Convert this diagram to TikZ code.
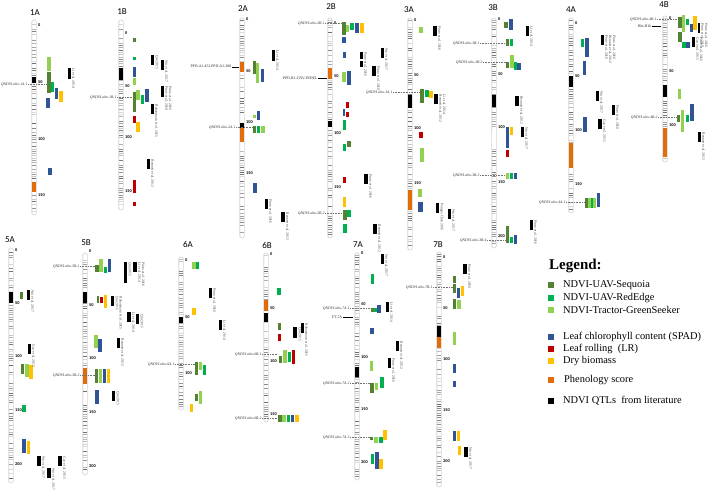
\documentclass[tikz,border=0pt]{standalone}
\usepackage{fontspec}
\setmainfont{Liberation Serif}
\newfontfamily\carl{Carlito}
\definecolor{cseq}{HTML}{548235}
\definecolor{cre}{HTML}{00B050}
\definecolor{cgs}{HTML}{92D050}
\definecolor{cbl}{HTML}{2F5597}
\definecolor{cred}{HTML}{C00000}
\definecolor{cye}{HTML}{FFC000}
\definecolor{cor}{HTML}{E26B0A}
\newcounter{cn}
\tikzset{
  chrlab/.style={font=\carl\fontsize{9}{9}\selectfont, inner sep=0pt},
  scl/.style={font=\carl\bfseries\fontsize{4.3}{4.3}\selectfont, anchor=west, inner sep=0pt},
  qtl/.style={font=\itshape\fontsize{3.8}{4}\selectfont, anchor=east, inner sep=0.4pt, text=black!80},
  mkr/.style={font=\fontsize{3.8}{4}\selectfont, anchor=east, inner sep=0.6pt, text=black!85},
  cite/.style={font=\fontsize{3.6}{3.9}\selectfont, rotate=-90, anchor=south west, inner sep=0.4pt, align=left, text=black!75},
  qdash/.style={black!55, line width=0.35pt, dash pattern=on 0.8pt off 0.8pt},
  mline/.style={black, line width=0.7pt},
  legtxt/.style={font=\fontsize{10.4}{11}\selectfont, anchor=west, inner sep=0pt},
  legsq/.style={minimum size=6pt, inner sep=0pt},
}
\newcommand\chr[4]{%
  \fill[white] (#1-2.2,#2) rectangle (#1+2.2,#3);
  \pgfmathsetseed{#4}%
  \pgfmathtruncatemacro\nb{(#3-#2-5)/2.3}%
  \foreach \i in {0,...,\nb}{%
    \pgfmathsetmacro\yy{#2+2.5+\i*2.3}%
    \pgfmathtruncatemacro\sk{random(0,9)}%
    \pgfmathtruncatemacro\gl{random(12,58)}%
    \ifnum\sk>2 \draw[black!\gl, line width=0.9pt] (#1-2.2,\yy) -- (#1+2.2,\yy);\fi
  }%
  \draw[black!30, line width=0.4pt, rounded corners=1.5pt] (#1-2.2,#2) rectangle (#1+2.2,#3);
}
\newcommand\bd[4]{\fill[#1] (#2-2.2,#3) rectangle (#2+2.2,#4);}
\newcommand\qb[5]{\fill[#1] (#2,#3) rectangle (#4,#5);}
\newcommand\scn[3]{\stepcounter{cn}\node[scl] (s\arabic{cn}) at (#1,#2) {#3};}
\newcommand\lit[5]{\fill[black] (#1,#2) rectangle (#3,#4);\stepcounter{cn}\node[cite] (c\arabic{cn}) at (#3+0.6,#2) {#5};}
\newcommand\qtl[5]{\node[qtl] (#1) at (#2,#3) {#4};\coordinate (#1e) at (#5,#3);\draw[qdash] (#1.east) -- (#1e);}
\newcommand\mk[5]{\node[mkr] (#1) at (#2,#3) {#4};\coordinate (#1e) at (#5,#3);\draw[mline] (#1.east) -- (#1e);}
\begin{document}
\begin{tikzpicture}[x=1pt,y=-1pt]
\fill[white] (0,0) rectangle (708,489);
\useasboundingbox (0,0) rectangle (708,489);

% ---------- 1A ----------
\node[chrlab] (l1A) at (35,13) {1A};
\chr{34}{20}{215}{11}
\bd{black}{34}{77}{83}\bd{cor}{34}{182}{192}
\scn{38}{25}{0}\scn{38}{82}{50}\scn{38}{139}{100}\scn{38}{195}{150}
\qtl{q1A1}{28}{84}{QNDVI.ubo-1A.1}{47}
\qb{cgs}{47}{57}{51}{71}\qb{cseq}{47}{72}{51}{93}\qb{cre}{51}{82}{54}{92}
\qb{cbl}{55}{88}{58}{99}\qb{cye}{59}{91}{63}{102}\qb{cbl}{46}{98}{50}{108}
\qb{cbl}{48}{168}{52}{175}
\lit{68}{68}{71}{79}{Li et al. 2014}

% ---------- 1B ----------
\node[chrlab] (l1B) at (122,12) {1B};
\chr{121}{20}{210}{12}
\bd{black}{121}{68}{80}
\scn{125}{33}{0}\scn{125}{86}{50}\scn{125}{137}{100}\scn{125}{191}{150}
\qtl{q1B1}{117}{97}{QNDVI.ubo-1B.1}{133}
\qb{cseq}{133}{38}{136}{42}\qb{cre}{133}{57}{136}{60}\qb{cbl}{133}{67}{136}{77}
\qb{cgs}{133}{78}{136}{85}\qb{cseq}{133}{92}{136}{112}\qb{cgs}{136}{90}{140}{100}
\qb{cre}{141}{95}{144}{104}\qb{cbl}{145}{89}{149}{102}\qb{cred}{133}{116}{136}{123}
\qb{cye}{136}{122}{140}{132}\qb{cred}{133}{180}{136}{193}\qb{cred}{133}{202}{136}{206}
\lit{151}{55}{154}{65}{Qin 2015}
\lit{161}{60}{164}{70}{Wu et al. 2017}
\lit{161}{86}{164}{97}{Pinto et al. 2016\\Pinto et al. 2010}
\lit{151}{104}{154}{114}{Bahanmasa et al. 2015}
\lit{147}{159}{150}{169}{Bennett et al. 2012}

% ---------- 2A ----------
\node[chrlab] (l2A) at (243,9) {2A};
\chr{242}{18}{238}{13}
\bd{cor}{242}{62}{72}\bd{black}{242}{123}{128}\bd{cor}{242}{128}{142}
\scn{246}{19}{0}\scn{246}{71}{50}\scn{246}{122}{100}\scn{246}{173}{150}
\mk{ppdA}{232}{67}{PPD-A1-452,PPD-A1-380}{239}
\qtl{q2A1}{236}{127}{QNDVI.ubo-2A.1}{253}
\qb{cseq}{253}{61}{256}{74}\qb{cgs}{256}{63}{259}{83}\qb{cbl}{261}{69}{264}{82}
\qb{cgs}{253}{115}{256}{118}\qb{cbl}{257}{111}{260}{120}
\qb{cseq}{253}{126}{256}{133}\qb{cre}{257}{126}{260}{133}\qb{cgs}{261}{126}{265}{133}
\qb{cbl}{253}{183}{257}{193}
\lit{272}{50}{275}{61}{Li et al. 2014}
\lit{265}{199}{268}{209}{Pinto et al. 2016}
\lit{281}{212}{285}{222}{Bennett et al. 2012}

% ---------- 2B ----------
\node[chrlab] (l2B) at (331,7) {2B};
\chr{330}{18}{238}{14}
\bd{cor}{330}{68}{79}\bd{black}{330}{121}{127}
\scn{334}{23}{0}\scn{334}{76}{50}\scn{334}{133}{100}\scn{334}{187}{150}
\qtl{q2B1}{325}{23}{QNDVI.ubo-2B.1}{342}
\mk{ppdB}{318}{78}{PPD-B1-CNV-INDEL}{327}
\qtl{q2B2}{325}{213}{QNDVI.ubo-2B.2}{342}
\qb{cseq}{342}{22}{346}{35}\qb{cgs}{346}{25}{349}{32}\qb{cre}{350}{23}{354}{30}
\qb{cbl}{355}{23}{359}{33}\qb{cye}{360}{23}{364}{33}\qb{cbl}{342}{37}{346}{43}
\qb{cbl}{343}{52}{346}{58}\qb{cgs}{342}{72}{346}{82}\qb{cbl}{347}{71}{351}{85}
\qb{cred}{346}{102}{349}{108}\qb{cred}{346}{112}{349}{117}\qb{cbl}{343}{109}{345}{116}
\qb{cre}{343}{120}{346}{130}\qb{cre}{343}{144}{346}{151}\qb{cseq}{347}{141}{351}{147}
\qb{cred}{343}{177}{346}{183}\qb{cye}{343}{197}{346}{207}\qb{cseq}{343}{210}{347}{220}
\qb{cre}{347}{210}{351}{217}\qb{cre}{343}{224}{347}{233}
\lit{360}{52}{363}{59}{Pinto et al. 2016}
\fill[black] (360,61) rectangle (363,67);
\lit{372}{66}{376}{76}{Pinto et al. 2010}
\lit{381}{48}{384}{58}{Wu et al. 2017}
\lit{364}{174}{368}{184}{Pinto et al. 2016}
\lit{373}{224}{377}{234}{Bennett et al. 2012}

% ---------- 3A ----------
\node[chrlab] (l3A) at (409,10) {3A};
\chr{410}{18}{250}{15}
\bd{black}{410}{95}{108}\bd{cor}{410}{190}{210}
\scn{414}{20}{0}\scn{414}{75}{50}\scn{414}{128}{100}\scn{414}{183}{150}
\qtl{q3A1}{393}{92}{QNDVI.ubo-3A.1}{419}
\qb{cgs}{419}{27}{423}{33}\qb{cseq}{420}{89}{424}{103}\qb{cre}{425}{90}{429}{97}
\qb{cye}{429}{91}{433}{98}\qb{cred}{419}{132}{423}{138}\qb{cgs}{420}{148}{424}{162}
\qb{cgs}{418}{189}{422}{197}\qb{cbl}{418}{202}{423}{212}
\lit{433}{26}{437}{36}{Pinto et al. 2016}
\lit{434}{94}{438}{104}{Li et al. 2014\\Bennett et al. 2012}
\lit{436}{203}{439}{213}{Pangna Chen 2015}
\lit{448}{209}{451}{219}{Wu et al. 2017}

% ---------- 3B ----------
\node[chrlab] (l3B) at (493,8) {3B};
\chr{494}{18}{248}{16}
\bd{black}{494}{95}{107}\bd{white}{494}{131}{149}
\scn{498}{19}{0}\scn{498}{74}{50}\scn{498}{127}{100}\scn{498}{182}{150}\scn{498}{236}{200}
\qtl{q3B1}{480}{43}{QNDVI.ubo-3B.1}{506}
\qtl{q3B2}{483}{62}{QNDVI.ubo-3B.2}{506}
\qtl{q3B3}{480}{175}{QNDVI.ubo-3B.3}{506}
\qtl{q3B4}{487}{240}{QNDVI.ubo-3B.4}{506}
\qb{cseq}{504}{22}{508}{28}\qb{cbl}{509}{19}{513}{30}
\qb{cseq}{506}{39}{509}{46}\qb{cre}{510}{39}{513}{46}
\qb{cseq}{506}{62}{509}{68}\qb{cgs}{510}{55}{514}{68}\qb{cre}{514}{62}{517}{70}\qb{cbl}{517}{63}{521}{70}
\qb{cbl}{506}{127}{509}{148}\qb{cye}{510}{127}{513}{135}\qb{cred}{506}{150}{509}{157}
\qb{cgs}{506}{173}{509}{179}\qb{cre}{510}{173}{513}{179}\qb{cbl}{514}{173}{517}{179}
\qb{cseq}{506}{226}{509}{243}\qb{cre}{510}{237}{513}{243}\qb{cbl}{514}{235}{517}{244}
\lit{526}{26}{529}{36}{Li et al. 2014}
\lit{515}{96}{519}{106}{Bennett et al. 2012}
\lit{521}{127}{524}{137}{Wu et al. 2017}
\lit{530}{220}{533}{230}{Pinto et al. 2016}

% ---------- 4A ----------
\node[chrlab] (l4A) at (571,10) {4A};
\chr{571}{18}{213}{17}
\bd{black}{571}{76}{87}\bd{cor}{571}{143}{168}
\scn{575}{23}{0}\scn{575}{76}{50}\scn{575}{130}{100}\scn{575}{184}{150}
\qtl{q4A1}{566}{202}{QNDVI.ubo-4A.1}{585}
\qb{cre}{581}{39}{584}{47}\qb{cbl}{585}{38}{589}{57}\qb{cbl}{583}{61}{586}{75}
\qb{cbl}{583}{117}{587}{132}
\qb{cseq}{585}{198}{588}{208}\qb{cgs}{588}{198}{591}{208}\qb{cre}{591}{198}{593}{208}
\qb{cgs}{593}{198}{596}{208}\qb{cbl}{597}{193}{600}{207}
\lit{601}{35}{604}{45}{Pinto et al. 2016\\Bennett et al. 2012\\Pinto et al. 2010}
\lit{596}{91}{599}{101}{Wu et al. 2017}
\lit{612}{105}{615}{115}{Pinto et al. 2010}
\lit{598}{119}{602}{129}{Gao et al. 2015}

% ---------- 4B ----------
\node[chrlab] (l4B) at (664,5) {4B};
\chr{665}{16}{162}{18}
\bd{black}{665}{85}{97}\bd{cor}{665}{128}{157}
\scn{669}{18}{0}\scn{669}{71}{50}\scn{669}{125}{100}
\qtl{q4B1}{657}{19}{QNDVI.ubo-4B.1}{677}
\mk{rht}{652}{26}{Rht-B1b}{661}
\qtl{q4B2}{658}{117}{QNDVI.ubo-4B.2}{677}
\qb{cseq}{678}{17}{682}{28}\qb{cgs}{682}{15}{685}{32}\qb{cre}{686}{19}{689}{25}
\qb{cbl}{690}{24}{693}{32}\qb{cye}{693}{16}{697}{30}
\qb{cseq}{678}{32}{682}{42}\qb{cre}{682}{42}{686}{48}\qb{cbl}{686}{42}{690}{48}
\qb{cgs}{678}{89}{681}{99}
\qb{cseq}{677}{115}{680}{122}\qb{cgs}{681}{110}{684}{132}\qb{cre}{686}{115}{689}{122}\qb{cbl}{690}{104}{694}{121}
\lit{697.5}{23}{700}{33}{Pinto et al. 2016\\Pinto et al. 2010}
\lit{692}{37}{695}{47}{Pinto et al. 2016\\Gao et al. 2015}
\lit{698}{132}{701}{142}{Bennett et al. 2012}

% ---------- 5A ----------
\node[chrlab] (l5A) at (10,240) {5A};
\chr{11}{248}{483}{21}
\bd{black}{11}{292}{303}
\scn{15}{250}{0}\scn{15}{303}{50}\scn{15}{356}{100}\scn{15}{410}{150}\scn{15}{464}{200}
\qb{cseq}{20}{292}{23}{299}
\qb{cseq}{21}{364}{24}{374}\qb{cgs}{25}{364}{29}{377}\qb{cye}{29}{365}{33}{379}
\qb{cre}{22}{405}{26}{412}\qb{cbl}{22}{439}{26}{453}\qb{cye}{27}{441}{30}{454}
\lit{27}{290}{30}{300}{Wu et al. 2017}
\lit{28}{344}{31}{354}{Gao et al. 2015}
\lit{37}{456}{41}{466}{Wu et al. 2017}
\lit{47}{468}{51}{478}{Wu et al. 2017}
\lit{58}{456}{62}{466}{Gao et al. 2015}

% ---------- 5B ----------
\node[chrlab] (l5B) at (86,243) {5B};
\chr{85}{253}{475}{22}
\bd{black}{85}{292}{303}\bd{cor}{85}{368}{384}
\scn{89}{251}{0}\scn{89}{305}{50}\scn{89}{358}{100}\scn{89}{412}{150}\scn{89}{466}{200}
\qtl{q5B1}{80}{266}{QNDVI.ubo-5B.1}{95}
\qtl{q5B2}{80}{375}{QNDVI.ubo-5B.2}{95}
\qb{cseq}{95}{265}{99}{272}\qb{cgs}{99}{259}{103}{272}\qb{cre}{104}{267}{107}{273}\qb{cbl}{108}{259}{111}{272}
\qb{cseq}{97}{296}{99}{303}\qb{cred}{100}{297}{103}{303}\qb{cye}{104}{295}{107}{308}
\qb{cgs}{94}{335}{98}{348}\qb{cbl}{98}{339}{102}{352}
\qb{cseq}{95}{369}{98}{383}\qb{cgs}{99}{369}{102}{383}\qb{cbl}{103}{369}{106}{383}\qb{cye}{107}{369}{110}{383}
\qb{cbl}{95}{390}{99}{404}
\lit{124}{262}{127}{283}{Qin 2015}
\lit{133}{262}{137}{272}{Pinto et al. 2016\\Li et al. 2014}
\lit{111}{296}{114}{306}{Bahanmasa et al. 2015\\Qin 2015}
\lit{127}{312}{131}{322}{Li et al. 2014}
\lit{136}{314}{139}{324}{Qin 2015}
\lit{117}{338}{120}{348}{Bennett et al. 2012}
\lit{112}{391}{115}{401}{Qin 2015}

% ---------- 6A ----------
\node[chrlab] (l6A) at (188,244) {6A};
\chr{181}{257}{410}{23}
\bd{black}{181}{317}{323}
\scn{185}{260}{0}\scn{185}{317}{50}\scn{185}{373}{100}
\qtl{q6A1}{175}{364}{QNDVI.ubo-6A.1}{195}
\qb{cgs}{192}{262}{196}{269}\qb{cre}{196}{262}{199}{269}\qb{cye}{192}{308}{196}{315}
\qb{cseq}{195}{362}{198}{375}\qb{cgs}{199}{362}{202}{370}\qb{cre}{203}{365}{206}{375}
\qb{cseq}{195}{394}{198}{401}\qb{cgs}{199}{391}{202}{404}\qb{cye}{190}{404}{193}{412}
\lit{209}{288}{212}{298}{Pinto et al. 2016}
\lit{219}{320}{222}{330}{Li et al. 2014}

% ---------- 6B ----------
\node[chrlab] (l6B) at (267,245) {6B};
\chr{266}{253}{422}{24}
\bd{cor}{266}{300}{311}\bd{black}{266}{313}{322}
\scn{270}{254}{0}\scn{270}{308}{50}\scn{270}{361}{100}\scn{270}{414}{150}
\qtl{q6B1}{262}{354}{QNDVI.ubo-6B.1}{278}
\qtl{q6B2}{262}{418}{QNDVI.ubo-6B.2}{278}
\qb{cre}{277}{288}{281}{295}\qb{cseq}{278}{323}{281}{330}\qb{cred}{278}{334}{281}{341}
\qb{cseq}{279}{356}{282}{363}\qb{cgs}{283}{350}{287}{363}\qb{cre}{288}{352}{291}{362}\qb{cred}{292}{350}{295}{364}
\qb{cseq}{278}{415}{282}{422}\qb{cgs}{282}{415}{286}{422}\qb{cre}{287}{415}{290}{422}
\qb{cbl}{291}{415}{294}{422}\qb{cye}{295}{415}{299}{422}
\lit{293}{327}{297}{338}{Qin 2015}
\lit{301}{323}{304}{333}{Bahanmasa et al. 2015}

% ---------- 7A ----------
\node[chrlab] (l7A) at (358,245) {7A};
\chr{357}{253}{480}{25}
\bd{black}{357}{367}{377}
\scn{361}{253}{0}\scn{361}{304}{50}\scn{361}{357}{100}\scn{361}{409}{150}\scn{361}{462}{200}
\qtl{q7A1}{350}{308}{QNDVI.ubo-7A.1}{370}
\mk{ft}{343}{317}{FT-7A}{353}
\qtl{q7A2}{350}{383}{QNDVI.ubo-7A.2}{370}
\qtl{q7A3}{350}{437}{QNDVI.ubo-7A.3}{370}
\qb{cre}{371}{274}{374}{284}
\qb{cseq}{371}{308}{374}{312}\qb{cre}{374}{308}{377}{312}\qb{cbl}{377}{305}{381}{313}
\qb{cbl}{370}{328}{374}{334}\qb{cgs}{370}{361}{373}{371}
\qb{cseq}{370}{383}{374}{393}\qb{cgs}{375}{383}{378}{390}\qb{cre}{380}{377}{384}{388}
\qb{cseq}{370}{437}{373}{440}\qb{cgs}{374}{437}{378}{443}\qb{cre}{379}{437}{383}{443}\qb{cye}{383}{430}{387}{440}
\qb{cre}{371}{454}{374}{464}\qb{cbl}{375}{452}{379}{469}\qb{cye}{379}{459}{383}{469}
\lit{381}{254}{384}{264}{Wu et al. 2017}
\lit{386}{302}{389}{312}{Li et al. 2014}
\lit{396}{341}{399}{351}{Bennett et al. 2012}
\lit{388}{358}{391}{368}{Pinto et al. 2016}

% ---------- 7B ----------
\node[chrlab] (l7B) at (438,245) {7B};
\chr{439}{252}{487}{26}
\bd{black}{439}{326}{337}\bd{cor}{439}{337}{348}
\scn{443}{257}{0}\scn{443}{308}{50}\scn{443}{359}{100}\scn{443}{410}{150}\scn{443}{461}{200}
\qtl{q7B1}{433}{287}{QNDVI.ubo-7B.1}{453}
\qb{cseq}{453}{276}{456}{283}\qb{cseq}{453}{284}{456}{293}\qb{cbl}{457}{288}{460}{298}\qb{cye}{461}{286}{464}{296}
\qb{cseq}{453}{299}{456}{309}\qb{cgs}{457}{300}{461}{309}\qb{cgs}{453}{332}{456}{345}
\qb{cbl}{453}{364}{456}{373}\qb{cbl}{453}{381}{456}{387}
\qb{cbl}{453}{431}{456}{441}\qb{cye}{457}{431}{460}{441}\qb{cye}{458}{446}{461}{455}
\lit{463}{264}{467}{274}{Pinto et al. 2010}
\lit{464}{447}{468}{457}{Wu et al. 2017}

% ---------- Legend ----------
\node[font=\bfseries\fontsize{15}{15}\selectfont, anchor=west, inner sep=0pt] (legt) at (549,266) {Legend:};
\node[legsq, fill=cseq] (g1) at (551,285) {};
\node[legtxt] (t1) at (563,285) {NDVI-UAV-Sequoia};
\node[legsq, fill=cre] (g2) at (551,298) {};
\node[legtxt] (t2) at (563,298) {NDVI-UAV-RedEdge};
\node[legsq, fill=cgs] (g3) at (551,310) {};
\node[legtxt] (t3) at (563,310) {NDVI-Tractor-GreenSeeker};
\node[legsq, fill=cbl] (g4) at (551,337) {};
\node[legtxt] (t4) at (563,337) {Leaf chlorophyll content (SPAD)};
\node[legsq, fill=cred] (g5) at (551,349) {};
\node[legtxt] (t5) at (563,349) {Leaf rolling\ \ (LR)};
\node[legsq, fill=cye] (g6) at (551,361) {};
\node[legtxt] (t6) at (563,361) {Dry biomass};
\node[legsq, fill=cor] (g7) at (551,380) {};
\node[legtxt] (t7) at (564,380) {Phenology score};
\node[legsq, fill=black] (g8) at (551,401) {};
\node[legtxt] (t8) at (563,401) {NDVI QTLs\ \ from literature};
\end{tikzpicture}
\end{document}
